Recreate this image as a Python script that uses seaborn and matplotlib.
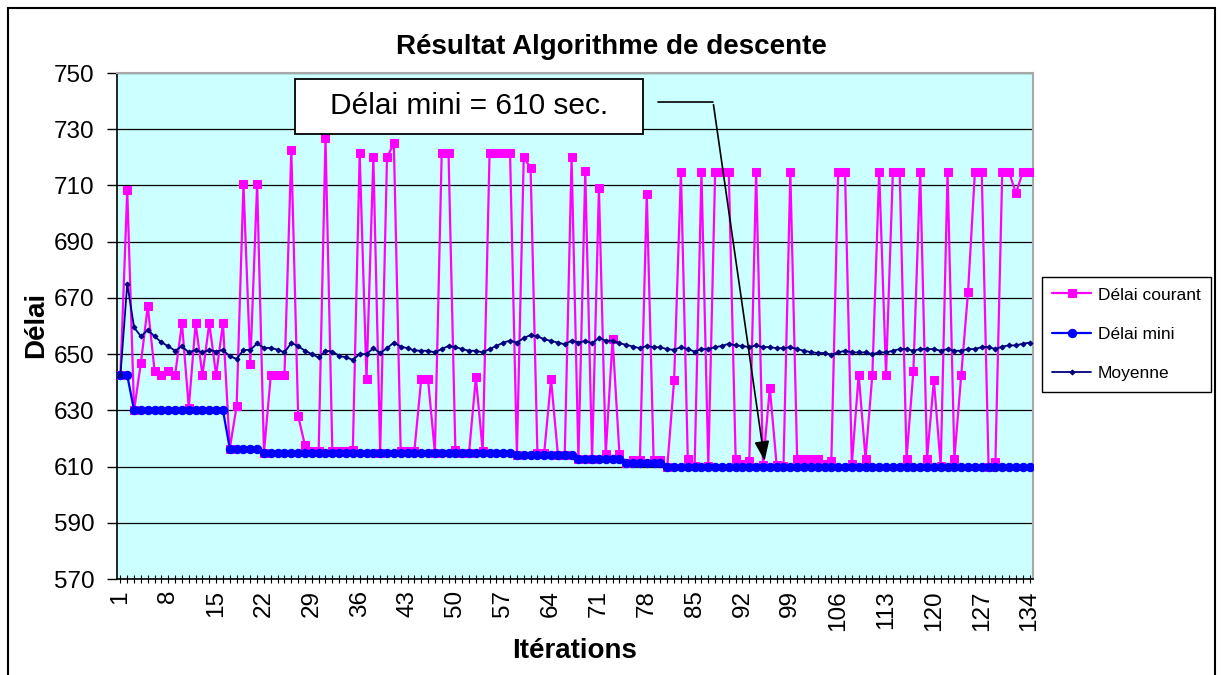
import seaborn as sns
import matplotlib.pyplot as plt
import pandas as pd
from matplotlib.patches import Rectangle
from matplotlib.lines import Line2D

# Style
sns.set_style("white")
plt.rcParams['font.family'] = ['Liberation Sans', 'DejaVu Sans']
plt.rcParams['text.color'] = 'black'
plt.rcParams['xtick.color'] = 'black'
plt.rcParams['ytick.color'] = 'black'
plt.rcParams['axes.labelcolor'] = 'black'

# Data (134 iterations)
iterations = list(range(1, 135))

delai_courant = [
    642.4, 708.3, 630.0, 647.0, 667.0, 644.0, 642.5, 644.0, 642.5, 661.0,
    631.0, 661.0, 642.5, 661.0, 642.5, 661.0, 616.4, 631.5, 710.5, 646.5,
    710.5, 615.0, 642.5, 642.5, 642.5, 722.5, 628.0, 617.5, 615.5, 615.5,
    727.0, 615.5, 615.5, 615.5, 616.0, 721.4, 641.0, 720.0, 615.0, 720.0,
    725.0, 615.5, 615.5, 615.5, 641.0, 641.0, 615.0, 721.4, 721.4, 615.8,
    615.0, 615.0, 641.7, 615.5, 721.4, 721.4, 721.4, 721.4, 614.2, 720.0,
    716.3, 615.0, 615.0, 641.0, 614.2, 614.2, 720.0, 612.8, 715.0, 612.8,
    709.0, 614.5, 655.5, 614.5, 611.4, 612.5, 612.5, 707.0, 612.5, 612.5,
    610.0, 640.7, 714.7, 612.8, 610.2, 714.7, 610.2, 714.7, 714.7, 714.7,
    612.8, 611.0, 612.0, 714.7, 610.5, 638.0, 610.5, 610.3, 714.7, 612.8,
    612.8, 612.8, 612.8, 611.0, 612.0, 714.7, 714.7, 610.8, 642.7, 612.8,
    642.7, 714.7, 642.7, 714.7, 714.7, 612.8, 643.9, 714.7, 612.8, 640.7,
    610.2, 714.7, 612.8, 642.7, 672.2, 714.7, 714.7, 610.0, 611.6, 714.7,
    714.7, 707.2, 714.7, 714.7,
]

delai_mini = [
    642.4, 642.4, 630.0, 630.0, 630.0, 630.0, 630.0, 630.0, 630.0, 630.0,
    630.0, 630.0, 630.0, 630.0, 630.0, 630.0, 616.4, 616.4, 616.4, 616.4,
    616.4, 615.0, 615.0, 615.0, 615.0, 615.0, 615.0, 615.0, 615.0, 615.0,
    615.0, 615.0, 615.0, 615.0, 615.0, 615.0, 615.0, 615.0, 615.0, 615.0,
    615.0, 615.0, 615.0, 615.0, 615.0, 615.0, 615.0, 615.0, 615.0, 615.0,
    615.0, 615.0, 615.0, 615.0, 615.0, 615.0, 615.0, 615.0, 614.2, 614.2,
    614.2, 614.2, 614.2, 614.2, 614.2, 614.2, 614.2, 612.8, 612.8, 612.8,
    612.8, 612.8, 612.8, 612.8, 611.4, 611.4, 611.4, 611.4, 611.4, 611.4,
    610.0, 610.0, 610.0, 610.0, 610.0, 610.0, 610.0, 610.0, 610.0, 610.0,
    610.0, 610.0, 610.0, 610.0, 610.0, 610.0, 610.0, 610.0, 610.0, 610.0,
    610.0, 610.0, 610.0, 610.0, 610.0, 610.0, 610.0, 610.0, 610.0, 610.0,
    610.0, 610.0, 610.0, 610.0, 610.0, 610.0, 610.0, 610.0, 610.0, 610.0,
    610.0, 610.0, 610.0, 610.0, 610.0, 610.0, 610.0, 610.0, 610.0, 610.0,
    610.0, 610.0, 610.0, 610.0,
]

moyenne = [
    642.4, 675.0, 659.5, 656.3, 658.6, 656.3, 654.2, 652.8, 651.2, 652.8,
    650.6, 651.5, 650.6, 651.5, 650.9, 651.5, 649.2, 648.3, 651.5, 651.5,
    653.8, 652.2, 652.2, 651.6, 650.6, 654.0, 652.8, 651.2, 650.0, 648.8,
    651.2, 650.9, 649.4, 648.8, 648.0, 650.0, 650.0, 652.1, 650.4, 652.1,
    654.1, 652.7, 652.1, 651.3, 651.2, 651.2, 650.6, 651.8, 652.9, 652.5,
    651.8, 651.2, 651.2, 650.6, 651.8, 652.9, 654.1, 654.8, 654.1, 655.7,
    656.8, 656.3, 655.3, 654.7, 654.1, 653.5, 654.8, 654.1, 654.7, 653.9,
    655.7, 654.8, 654.8, 653.9, 653.3, 652.7, 652.1, 652.9, 652.5, 652.4,
    651.8, 651.5, 652.5, 651.8, 650.9, 651.8, 651.8, 652.5, 652.9, 653.7,
    653.1, 652.9, 652.5, 653.1, 652.5, 652.5, 652.1, 652.1, 652.5, 651.8,
    651.2, 650.7, 650.4, 650.4, 649.8, 650.6, 651.2, 650.6, 650.6, 650.6,
    650.0, 650.6, 650.6, 651.2, 651.8, 651.8, 651.2, 651.8, 651.8, 651.8,
    651.2, 651.8, 651.2, 651.2, 651.8, 651.8, 652.5, 652.5, 651.8, 652.7,
    653.1, 653.1, 653.7, 654.1,
]

y_ticks = [570, 590, 610, 630, 650, 670, 690, 710, 730, 750]
x_tick_labels = list(range(1, 135, 7))

df = pd.DataFrame({
    'Itérations': iterations,
    'Délai courant': delai_courant,
    'Délai mini': delai_mini,
    'Moyenne': moyenne,
})

W, H = 1221, 675
fig = plt.figure(figsize=(W / 100, H / 100), dpi=100)
ax = fig.add_axes([117 / W, 1 - 579 / H, 916 / W, 506 / H])
ax.set_facecolor('#CCFFFF')

sns.lineplot(data=df, x='Itérations', y='Délai courant', ax=ax, color='#FF00FF',
             marker='s', markersize=5.5, markeredgecolor='#FF00FF', linewidth=1.6,
             label='Délai courant', zorder=3)
sns.lineplot(data=df, x='Itérations', y='Délai mini', ax=ax, color='#0000FF',
             marker='o', markersize=6, markeredgecolor='#0000FF', linewidth=1.6,
             label='Délai mini', zorder=4)
sns.lineplot(data=df, x='Itérations', y='Moyenne', ax=ax, color='#000080',
             marker='D', markersize=2.5, markeredgecolor='#000080', linewidth=1.3,
             label='Moyenne', zorder=5)

# Axes
ax.set_xlim(0.5, 134.5)
ax.set_ylim(570, 750)
ax.set_yticks(y_ticks)
ax.set_xticks(x_tick_labels)
ax.set_xticks(iterations, minor=True)
ax.set_xticklabels([str(v) for v in x_tick_labels], rotation=90)
ax.tick_params(axis='y', direction='out', length=7, width=1, pad=9, labelsize=17.5, left=True)
ax.tick_params(axis='x', which='both', direction='inout', length=6, width=0.8,
               pad=5, labelsize=17.5, bottom=True)
ax.yaxis.grid(True, color='black', linewidth=0.9)
ax.set_axisbelow(True)
ax.set_xlabel('')
ax.set_ylabel('')
for side in ['left', 'bottom']:
    ax.spines[side].set_color('black')
    ax.spines[side].set_linewidth(1.2)
for side in ['top', 'right']:
    ax.spines[side].set_color('#A8A8A8')
    ax.spines[side].set_linewidth(1.5)

# Titles
fig.text(611 / W, 1 - 47 / H, 'Résultat Algorithme de descente', ha='center', va='center',
         fontsize=20, fontweight='bold')
fig.text(36 / W, 1 - 325 / H, 'Délai', ha='center', va='center', rotation=90,
         fontsize=20, fontweight='bold')
fig.text(575 / W, 1 - 651 / H, 'Itérations', ha='center', va='center',
         fontsize=20, fontweight='bold')

# Annotation box + arrow
ax.add_patch(Rectangle((26.5, 728.3), 50.9, 19.6, facecolor='white', edgecolor='black',
                       linewidth=1.3, zorder=6))
ax.text(52.0, 738.2, 'Délai mini = 610 sec.', ha='center', va='center', fontsize=21.5, zorder=7)
ax.add_line(Line2D([79.6, 87.7], [739.7, 739.7], color='black', linewidth=1.2, zorder=7))
ax.annotate('', xy=(95.3, 611.0), xytext=(87.7, 739.7),
            arrowprops=dict(arrowstyle='-|>,head_length=1.2,head_width=0.45',
                            color='black', lw=1.2), zorder=7)

# Legend
leg = ax.legend(loc='upper left', bbox_to_anchor=(1042 / W, 1 - 277 / H),
                bbox_transform=fig.transFigure, frameon=True, fancybox=False,
                edgecolor='black', fontsize=12.5, handlelength=2.2, handletextpad=0.4,
                labelspacing=1.4, borderpad=0.6, borderaxespad=0, framealpha=1)
leg.get_frame().set_linewidth(1.0)

# Outer chart frame
fig.patches.append(Rectangle((8 / W, -0.05), 1207 / W, 1.05 - 8 / H, transform=fig.transFigure,
                             fill=False, edgecolor='black', linewidth=1.5))

plt.savefig('out.png', dpi=100)
